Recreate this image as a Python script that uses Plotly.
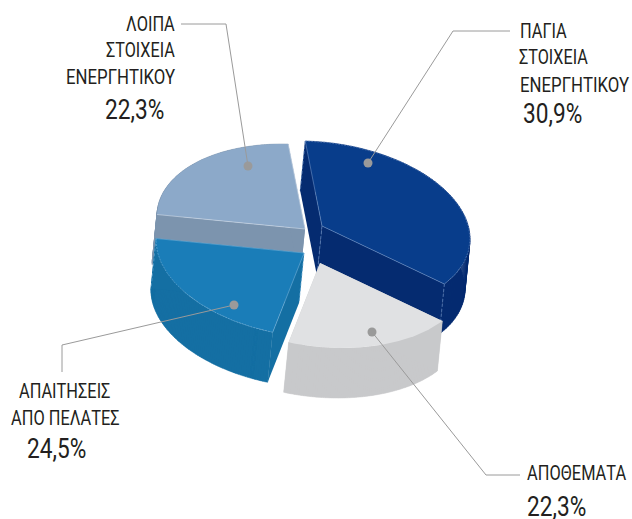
import numpy as np
import plotly.graph_objects as go

# --- data -------------------------------------------------------------
labels = [["ΠΑΓΙΑ", "ΣΤΟΙΧΕΙΑ", "ΕΝΕΡΓΗΤΙΚΟΥ"], ["ΑΠΟΘΕΜΑΤΑ"],
          ["ΑΠΑΙΤΗΣΕΙΣ", "ΑΠΟ ΠΕΛΑΤΕΣ"], ["ΛΟΙΠΑ", "ΣΤΟΙΧΕΙΑ", "ΕΝΕΡΓΗΤΙΚΟΥ"]]
values = [30.9, 22.3, 24.5, 22.3]

# --- styling / projection ---------------------------------------------
W, H = 632, 519
START = -6.5                        # first slice's boundary, degrees clockwise
WARP = [0, 19.5, 7.2, -2.2, 0]      # perspective distortion of each boundary
RX, RY, TILT = 148, 84, 13          # tilted ellipse of the disc
DEPTH = (-5, 50)                    # extrusion direction
APEX = [(322, 226), (320, 263), (304, 253), (305, 229)]   # exploded centres
TOP = ["#083D8B", "#E0E1E3", "#1A7DB8", "#8CA9C9"]
SIDE = ["#052B70", "#C8C9CB", "#146FA3", "#7C94AE"]
EDGE = ["#5F84BB", None, "#66A8D2", "#C5D3E3"]
ORDER = [3, 0, 2, 1]                # painter's order
LEADER_COLOR = "#9A9A9A"
LEADERS = [([368, 453, 510], [163, 31, 31]),
           ([372, 486, 520], [332, 475, 475]),
           ([234, 62, 62], [305, 345, 372]),
           ([248, 226, 181], [166, 24, 24])]
FONT = "Roboto"
TEXT_COLOR = "#231F20"
# layout sizes give each line its condensed width; the drawn sizes are larger
LINE_SIZE = {"ΕΝΕΡΓΗΤΙΚΟΥ": 16.8, "ΣΤΟΙΧΕΙΑ": 16.2}
BASE_SIZE, PCT_SIZE = 16.4, 22.7
# centre x of each line, y of each line, then centre x and y of the percentage
TEXT_LAYOUT = [
    ([543, 553, 574], [31, 57, 84], 552, 113),
    ([576], [473], 556, 506),
    ([65, 65], [391, 418], 56, 448),
    ([150, 140, 120], [24, 50, 76], 134, 109),
]


def arc(apex, t0, t1, n=80):
    t = np.radians(np.linspace(t0, t1, n))
    return (apex[0] + RX * np.sin(t),
            apex[1] + TILT * np.sin(t) - RY * np.cos(t))


def polygon(fig, xs, ys, color, w=0):
    fig.add_trace(go.Scatter(x=list(xs), y=list(ys), mode="lines", fill="toself",
                             fillcolor=color, line=dict(width=w, color=color),
                             hoverinfo="skip", showlegend=False))


def line(fig, xs, ys, color, width=0.7, dash="solid"):
    fig.add_trace(go.Scatter(x=list(xs), y=list(ys), mode="lines",
                             line=dict(width=width, color=color, dash=dash),
                             hoverinfo="skip", showlegend=False))


fig = go.Figure()
cum = np.concatenate([[0], np.cumsum(values)]) * 360 / sum(values)
bounds = START + cum + np.array(WARP)

for i in ORDER:
    t0, t1 = bounds[i], bounds[i + 1]
    ax, ay = APEX[i]
    dx, dy = DEPTH
    x, y = arc(APEX[i], t0, t1)
    # outer wall: one quad per arc step, so the silhouette follows the sweep
    qx, qy = [], []
    for a in range(len(x) - 1):
        qx += [x[a], x[a + 1], x[a + 1] + dx, x[a] + dx, x[a], None]
        qy += [y[a], y[a + 1], y[a + 1] + dy, y[a] + dy, y[a], None]
    polygon(fig, qx, qy, SIDE[i], w=0.5)
    # cut faces
    for k in (0, -1):
        polygon(fig, [ax, x[k], x[k] + dx, ax + dx], [ay, y[k], y[k] + dy, ay + dy], SIDE[i])
    # top face
    polygon(fig, np.r_[ax, x], np.r_[ay, y], TOP[i])
    if EDGE[i]:
        line(fig, [x[-1], ax, x[0]] if i != 3 else [x[0], ax, x[-1]],
             [y[-1], ay, y[0]] if i != 3 else [y[0], ay, y[-1]], EDGE[i])
        if i != 3:
            line(fig, x, y, EDGE[i], dash="2px,1px")
            for px, py in [(x[-1], y[-1]), (ax, ay)] if i == 2 else [(x[-1], y[-1]), (ax, ay), (x[0], y[0])]:
                line(fig, [px, px + dx], [py, py + dy], EDGE[i], dash="3px,2px")

for (lx, ly) in LEADERS:
    line(fig, lx, ly, LEADER_COLOR, width=1)
    fig.add_trace(go.Scatter(x=[lx[0]], y=[ly[0]], mode="markers",
                             marker=dict(size=9, color=LEADER_COLOR),
                             hoverinfo="skip", showlegend=False))

annotations = []
for lab, val, (txs, tys, px, py) in zip(labels, values, TEXT_LAYOUT):
    for s, tx, ty in zip(lab, txs, tys):
        annotations.append(dict(x=tx, y=ty + 1.5, text=s, showarrow=False, xanchor="center", yanchor="middle",
                                font=dict(family=FONT, size=LINE_SIZE.get(s, BASE_SIZE), color=TEXT_COLOR)))
    annotations.append(dict(x=px, y=py + 2, text=f"{val:.1f}".replace(".", ",") + "%", showarrow=False,
                            xanchor="center", yanchor="middle",
                            font=dict(family=FONT, size=PCT_SIZE, color=TEXT_COLOR)))

fig.update_layout(
    width=W, height=H, margin=dict(l=0, r=0, t=0, b=0),
    paper_bgcolor="white", plot_bgcolor="white", showlegend=False,
    xaxis=dict(range=[0, W], visible=False, fixedrange=True),
    yaxis=dict(range=[H, 0], visible=False, fixedrange=True),
    annotations=annotations,
)
CONDENSE = """
document.body.style.margin='0';
document.documentElement.style.overflow='hidden';
document.querySelectorAll('.annotation-text').forEach(function(el){
  var big = parseFloat(el.style.fontSize) > 20;
  var len = el.getComputedTextLength();
  el.style.fontSize = big ? '27px' : '20px';
  var s = len / el.getComputedTextLength();
  var b = el.getBBox();
  var cx = b.x + b.width / 2;
  el.setAttribute('transform', 'translate(' + cx + ' 0) scale(' + s + ' 1) translate(' + (-cx) + ' 0)');
});
"""
fig.write_html("out.html", config={"displayModeBar": False}, post_script=CONDENSE)
